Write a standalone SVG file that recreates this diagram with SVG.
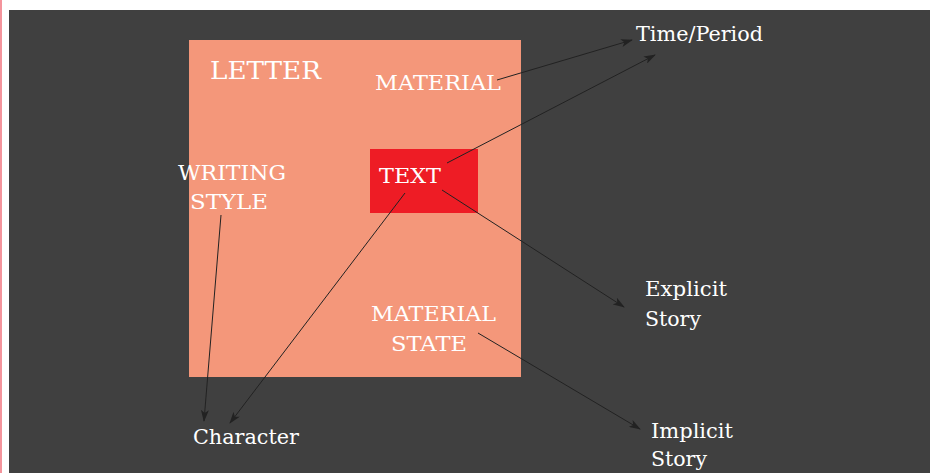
<svg xmlns="http://www.w3.org/2000/svg" width="930" height="473" viewBox="0 0 930 473">
<defs>
<style>
.t{font-family:"DejaVu Serif","Liberation Serif",serif;font-size:21px;fill:#ffffff}
.c{stroke:#222222;stroke-width:1;fill:none;marker-end:url(#ah)}
</style>
<marker id="ah" viewBox="0 0 12 8" refX="11" refY="4" markerWidth="12" markerHeight="8" markerUnits="userSpaceOnUse" orient="auto">
<path d="M0,0 L12,4 L0,8 L3,4 Z" fill="#222222"/>
</marker>
</defs>
<rect x="0" y="0" width="930" height="473" fill="#ffffff"/>
<rect x="0" y="0" width="2" height="473" fill="#f4949c"/>
<rect x="9" y="10" width="921" height="463" fill="#404040"/>
<g id="letter">
<rect x="189" y="40" width="332" height="337" fill="#f4977a"/>
<text class="t" x="210" y="79" style="font-size:25px" textLength="111" lengthAdjust="spacingAndGlyphs">LETTER</text>
</g>
<g id="material">
<text class="t" x="375" y="90" textLength="126" lengthAdjust="spacingAndGlyphs">MATERIAL</text>
</g>
<g id="text">
<rect x="370" y="149" width="108" height="64" fill="#ee1c25"/>
<text class="t" x="379" y="183" textLength="62" lengthAdjust="spacingAndGlyphs">TEXT</text>
</g>
<g id="writing-style">
<text class="t" x="178" y="180" textLength="108" lengthAdjust="spacingAndGlyphs">WRITING</text>
<text class="t" x="190" y="209" textLength="78" lengthAdjust="spacingAndGlyphs">STYLE</text>
</g>
<g id="material-state">
<text class="t" x="371" y="321" textLength="125" lengthAdjust="spacingAndGlyphs">MATERIAL</text>
<text class="t" x="391" y="351" textLength="76" lengthAdjust="spacingAndGlyphs">STATE</text>
</g>
<g id="time-period">
<text class="t" x="636" y="41" textLength="127" lengthAdjust="spacingAndGlyphs">Time/Period</text>
</g>
<g id="explicit-story">
<text class="t" x="645" y="296" textLength="82" lengthAdjust="spacingAndGlyphs">Explicit</text>
<text class="t" x="645" y="326" textLength="56" lengthAdjust="spacingAndGlyphs">Story</text>
</g>
<g id="implicit-story">
<text class="t" x="651" y="438" textLength="82" lengthAdjust="spacingAndGlyphs">Implicit</text>
<text class="t" x="651" y="466" textLength="56" lengthAdjust="spacingAndGlyphs">Story</text>
</g>
<g id="character">
<text class="t" x="193" y="444" textLength="106" lengthAdjust="spacingAndGlyphs">Character</text>
</g>
<g id="connectors">
<line class="c" x1="497" y1="80" x2="632" y2="40"/>
<line class="c" x1="447" y1="163" x2="655" y2="55"/>
<line class="c" x1="442" y1="190" x2="624" y2="307"/>
<line class="c" x1="405" y1="193" x2="230" y2="423"/>
<line class="c" x1="221" y1="215" x2="204" y2="421"/>
<line class="c" x1="478" y1="333" x2="640" y2="429"/>
</g>
</svg>
